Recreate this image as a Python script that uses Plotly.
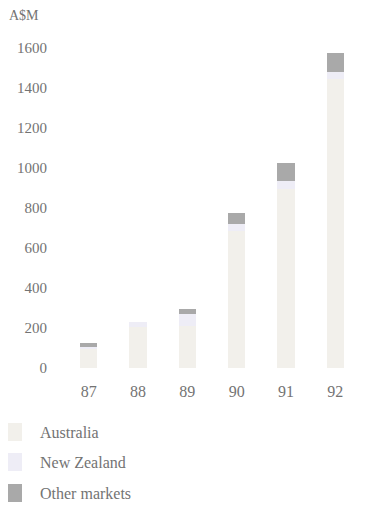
import plotly.graph_objects as go

# Revenue by market, A$M
years = ["87", "88", "89", "90", "91", "92"]
australia = [95, 205, 210, 685, 895, 1447]
new_zealand = [10, 25, 60, 35, 40, 35]
other_markets = [20, 0, 25, 55, 90, 95]

series_names = ["Australia", "New Zealand", "Other markets"]
series_colors = ["#f2f0eb", "#eeedf6", "#a9a9a9"]
y_ticks = [0, 200, 400, 600, 800, 1000, 1200, 1400, 1600]

W, H = 379, 505
M_L, M_R, M_T, M_B = 64, 19, 36, 125
PW, PH = W - M_L - M_R, H - M_T - M_B
FONT = "Liberation Serif"
TEXT = "#737373"


def px_x(x):
    return (x - M_L) / PW


def px_y(y):
    return (H - M_B - y) / PH


fig = go.Figure()
for name, vals, col in zip(series_names, [australia, new_zealand, other_markets], series_colors):
    fig.add_trace(go.Bar(x=years, y=vals, name=name, marker=dict(color=col, line=dict(width=0)),
                         showlegend=False))

# Legend drawn as swatches and labels below the chart
legend_rows = [432, 462, 493]
for name, col, yc in zip(series_names, series_colors, legend_rows):
    fig.add_shape(type="rect", xref="paper", yref="paper",
                  x0=px_x(8), x1=px_x(22), y0=px_y(yc + 9), y1=px_y(yc - 9),
                  fillcolor=col, line=dict(width=0))
    fig.add_annotation(xref="paper", yref="paper", x=px_x(38), y=px_y(yc),
                       text=name, showarrow=False, xanchor="left", yanchor="middle",
                       font=dict(family=FONT, size=16, color=TEXT))

fig.add_annotation(xref="paper", yref="paper", x=px_x(7), y=px_y(16),
                   text="A$M", showarrow=False, xanchor="left", yanchor="middle",
                   font=dict(family=FONT, size=14, color=TEXT))

fig.update_layout(
    width=W, height=H,
    margin=dict(l=M_L, r=M_R, t=M_T, b=M_B),
    barmode="stack", bargap=0.65,
    paper_bgcolor="white", plot_bgcolor="white",
    font=dict(family=FONT, size=15, color=TEXT),
    xaxis=dict(showgrid=False, zeroline=False, showline=False, ticks="",
               tickfont=dict(family=FONT, size=16, color=TEXT)),
    yaxis=dict(range=[-60, 1660], tickvals=y_ticks, showgrid=False, zeroline=False,
               showline=False, ticks="", ticklabelstandoff=16,
               tickfont=dict(family=FONT, size=15, color=TEXT)),
)

fig.write_html("out.html")
